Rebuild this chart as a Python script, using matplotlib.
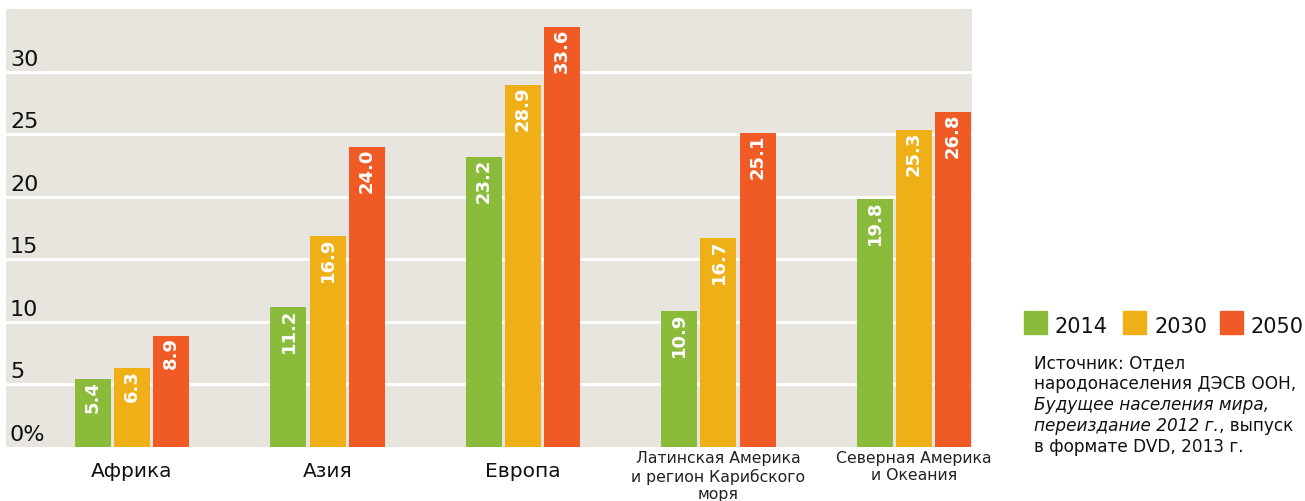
import numpy as np
import matplotlib.pyplot as plt

# data
regions = ["Африка", "Азия", "Европа",
           "Латинская Америка\nи регион Карибского\nморя",
           "Северная Америка\nи Океания"]
years = ["2014", "2030", "2050"]
vals_2014 = [5.4, 11.2, 23.2, 10.9, 19.8]
vals_2030 = [6.3, 16.9, 28.9, 16.7, 25.3]
vals_2050 = [8.9, 24.0, 33.6, 25.1, 26.8]
yticks = [0, 5, 10, 15, 20, 25, 30]
ytick_labels = ["0%", "5", "10", "15", "20", "25", "30"]

colors = ["#8BBB3B", "#EFAF17", "#F05A24"]
bg = "#E8E4DE"
W, H = 1305, 502

fig = plt.figure(figsize=(W / 100, H / 100), dpi=100)
ax = fig.add_axes([6 / W, 54 / H, 966 / W, 438 / H])
ax.set_facecolor(bg)
for s in ax.spines.values():
    s.set_visible(False)

x = np.arange(len(regions))
w = 0.184
step = 0.2
series = [vals_2014, vals_2030, vals_2050]
for i, vals in enumerate(series):
    xs = x + (i - 1) * step
    ax.bar(xs, vals, width=w, color=colors[i], zorder=3)
    for xi, v in zip(xs, vals):
        ax.text(xi, v - 0.05, "%.1f" % v, rotation=90, ha="center", va="top",
                color="white", fontsize=13, fontweight="bold", zorder=4)

ax.set_xlim(-0.645, 4.297)
ax.set_ylim(0, 35.0)

# white gridlines, labels sit just above them
for t, lab in zip(yticks, ytick_labels):
    if t > 0:
        ax.axhline(t, color="white", lw=2.2, zorder=1)
    ax.text(-0.625, t + 0.56, lab, ha="left", va="baseline", fontsize=16,
            color="#111111", zorder=2)

ax.set_xticks([])
ax.set_yticks([])

# category labels under the bars
for xi, r in zip(x, regions):
    xf = ax.transData.transform((xi, 0))[0] / W
    if "\n" in r:
        fig.text(xf, 1 - 451 / H, r, ha="center", va="top", fontsize=11.3,
                 color="#222222", linespacing=1.18)
    else:
        fig.text(xf, 1 - 477 / H, r, ha="center", va="baseline", fontsize=14.5,
                 color="#111111")

# legend drawn by hand
sq_x = [1024, 1123, 1220]
for c, yr, sx in zip(colors, years, sq_x):
    fig.patches.append(plt.Rectangle((sx / W, 1 - 335 / H), 23 / W, 23 / H,
                                     color=c, transform=fig.transFigure))
    fig.text((sx + 31) / W, 1 - 333 / H, yr, fontsize=15, ha="left",
             va="baseline", color="#111111")

# source note
fs = 12.2
bl = [368, 389, 410, 431, 452]
fig.text(1034 / W, 1 - bl[0] / H, "Источник: Отдел", fontsize=fs,
         va="baseline", color="#111111")
fig.text(1034 / W, 1 - bl[1] / H, "народонаселения ДЭСВ ООН,", fontsize=fs,
         va="baseline", color="#111111")
fig.text(1034 / W, 1 - bl[2] / H, "Будущее населения мира,", fontsize=fs,
         style="italic", va="baseline", color="#111111")
t1 = fig.text(1034 / W, 1 - bl[3] / H, "переиздание 2012 г.", fontsize=fs,
              style="italic", va="baseline", color="#111111")
fig.canvas.draw()
bb = t1.get_window_extent()
fig.text(bb.x1 / W, 1 - bl[3] / H, ", выпуск", fontsize=fs,
         va="baseline", color="#111111")
fig.text(1034 / W, 1 - bl[4] / H, "в формате DVD, 2013 г.", fontsize=fs,
         va="baseline", color="#111111")

fig.savefig("out.png", dpi=100)
